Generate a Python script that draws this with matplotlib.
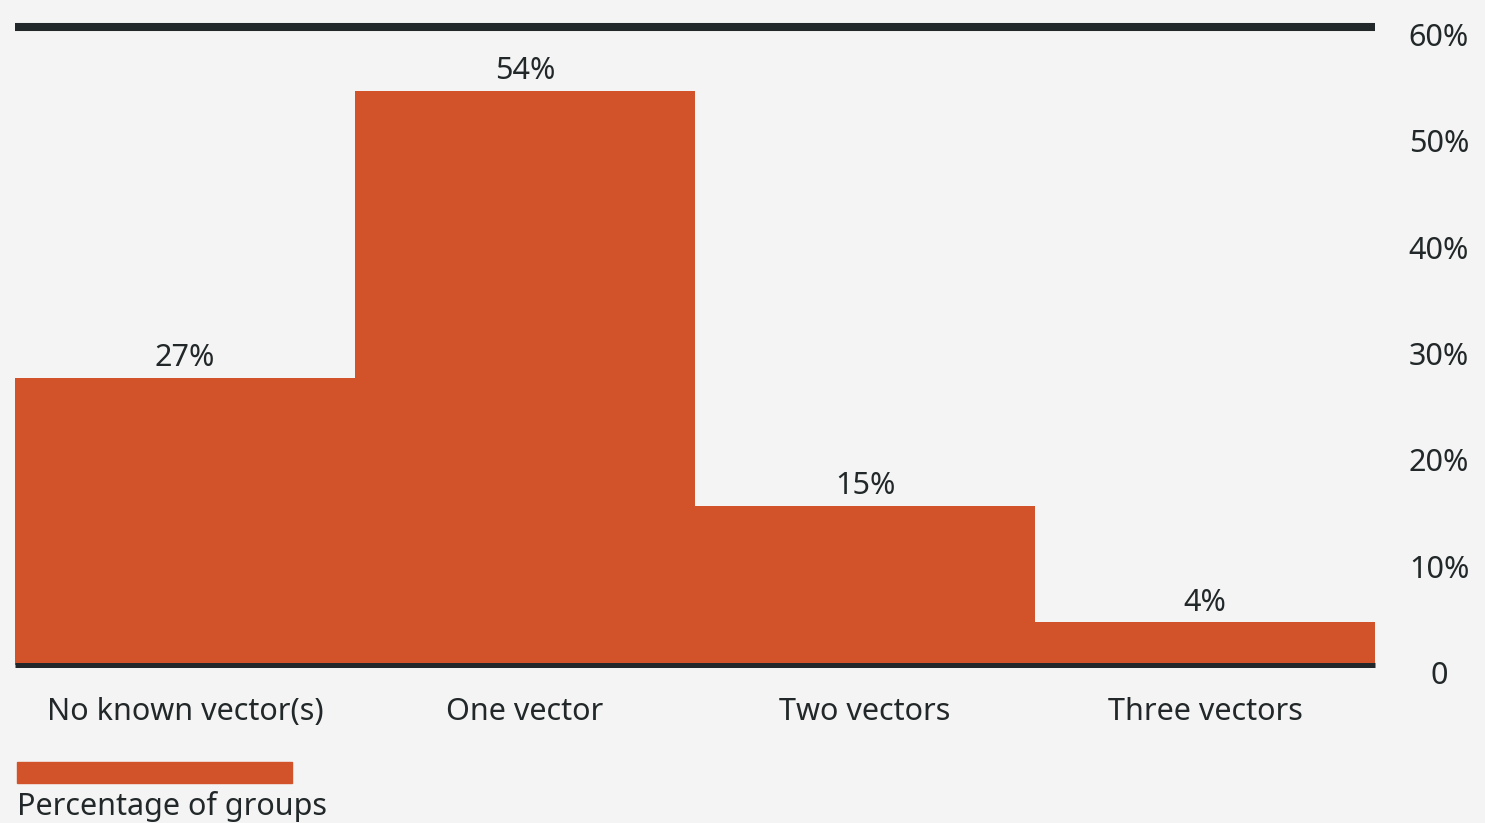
import matplotlib.pyplot as plt
import matplotlib.patches as mpatches
import matplotlib.transforms as mtransforms

categories = ["No known vector(s)", "One vector", "Two vectors", "Three vectors"]
values = [27, 54, 15, 4]
ticks = [0, 10, 20, 30, 40, 50, 60]
tick_labels = ["0", "10%", "20%", "30%", "40%", "50%", "60%"]

bg = "#f4f4f4"
bar_color = "#d2522a"
ink = "#222829"
fs = 22

plt.rcParams['font.family'] = ['Noto Sans', 'DejaVu Sans']

fig = plt.figure(figsize=(14.85, 8.23), dpi=100, facecolor=bg)
ax = fig.add_axes([15 / 1485, 158 / 823, 1360 / 1485, 638 / 823])
ax.set_facecolor(bg)

x = list(range(len(categories)))
ax.bar(x, values, width=1.0, color=bar_color, align='center')
for xi, v in zip(x, values):
    ax.annotate(f"{v}%", (xi, v), xytext=(0, 3.5), textcoords='offset points',
                ha='center', va='bottom', fontsize=fs, color=ink)

ax.set_xlim(-0.5, len(categories) - 0.5)
ax.set_ylim(0, 60)

ax.axhline(60, color=ink, lw=5.8, clip_on=False, solid_capstyle='butt')
ax.axhline(0, color=ink, lw=3.6, clip_on=False, solid_capstyle='butt')

for s in ax.spines.values():
    s.set_visible(False)

# right-side tick labels, centred and nudged a little below each gridline
ax.set_yticks(ticks)
ax.set_yticklabels([])
ax.tick_params(axis='y', length=0, left=False, right=False)
trans = mtransforms.blended_transform_factory(ax.transAxes, ax.transData)
trans = trans + mtransforms.ScaledTranslation(64 / 100, -11 / 100, fig.dpi_scale_trans)
for t, lab in zip(ticks, tick_labels):
    ax.text(1.0, t, lab, transform=trans, ha='center', va='center',
            fontsize=fs, color=ink)

ax.set_xticks(x)
ax.set_xticklabels(categories, fontsize=fs, color=ink)
ax.tick_params(axis='x', length=0, pad=23)

fig.patches.append(mpatches.Rectangle((17 / 1485, (823 - 783) / 823), 275 / 1485, 21 / 823,
                                      transform=fig.transFigure, color=bar_color))
fig.text(17 / 1485, (823 - 807) / 823, "Percentage of groups", fontsize=fs, color=ink,
         ha='left', va='center')

fig.savefig("out.png", dpi=100, facecolor=bg)
